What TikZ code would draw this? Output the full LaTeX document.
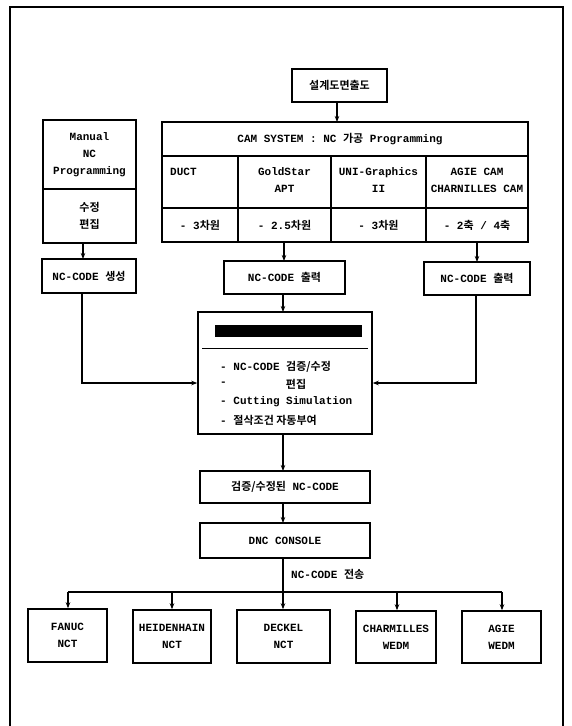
\documentclass[tikz,border=0pt]{standalone}
\usepackage{fontspec}
\setmainfont{Liberation Mono}
\newfontfamily\krfont{Noto Sans CJK KR}[BoldFont={Noto Sans CJK KR Bold}]
\newcommand\K[1]{{\krfont\bfseries #1}}
\usetikzlibrary{arrows.meta}
\begin{document}
\begin{tikzpicture}[x=1pt,y=-1pt,
  every node/.style={font=\bfseries\fontsize{11}{17}\selectfont, inner sep=0pt, align=center},
  box/.style={draw, line width=1.5pt, rectangle},
  arr/.style={line width=1.2pt, -{Stealth[length=6pt,width=4.5pt]}},
  conn/.style={line width=1.2pt},
  grid/.style={line width=1.5pt}]
\useasboundingbox (0,0) rectangle (572,726);
% outer frame
\draw[line width=1.5pt] (10,726) -- (10,7) -- (563,7) -- (563,726);

% top drawing box
\node[box, minimum width=95, minimum height=33] (des) at (339.5,85.5) {\K{설계도면출도}};

% CAM system box
\node[box, minimum width=366, minimum height=120] (cam) at (345,182) {};
\coordinate (camtop) at (337,122);
\draw[grid] (162,156) -- (528,156);
\draw[grid] (162,208) -- (528,208);
\foreach \xx in {238,331,426} \draw[grid] (\xx,156) -- (\xx,242);
\node (camtitle) at (340,139) {CAM SYSTEM : NC \K{가공} Programming};
\node[anchor=west] (duct) at (170,172) {DUCT};
\node (gold) at (284.5,180) {GoldStar\\APT};
\node (uni) at (378.5,180) {UNI-Graphics\\II};
\node (agie) at (477,180) {AGIE CAM\\CHARNILLES CAM};
\node (d1) at (200,225) {- 3\K{차원}};
\node (d2) at (284.5,225) {- 2.5\K{차원}};
\node (d3) at (378.5,225) {- 3\K{차원}};
\node (d4) at (477,225) {- 2\K{축} / 4\K{축}};
\draw[arr] (des.south -| camtop) -- (camtop);

% manual programming
\node[box, minimum width=93, minimum height=123] (man) at (89.5,181.5) {};
\draw[grid] (43,189) -- (136,189);
\node (mantxt) at (89.5,155) {Manual\\NC\\Programming};
\node (edit) at (89.5,215.5) {\K{수정}\\\K{편집}};

% NC code boxes
\node[box, minimum width=94, minimum height=34] (gen) at (89,276) {NC-CODE \K{생성}};
\node[box, minimum width=121, minimum height=33] (outm) at (284.5,277.5) {NC-CODE \K{출력}};
\node[box, minimum width=106, minimum height=33] (outr) at (477,278.5) {NC-CODE \K{출력}};
\draw[arr] (83,243) -- (83,259);
\draw[arr] (284,242) -- (284,261);
\draw[arr] (477,242) -- (477,262);

% central checking box
\node[box, minimum width=174, minimum height=122] (mid) at (285,373) {};
\node[fill=black, minimum width=147, minimum height=12] (midtitle) at (288.5,331) {};
\draw[line width=1pt] (202,348) -- (368,348);
\node[anchor=west] (m1) at (220,367) {- NC-CODE \K{검증/수정}};
\node[anchor=west] (m2) at (220,384) {-};
\node (m2b) at (296,384) {\K{편집}};
\node[anchor=west] (m3) at (220,402) {- Cutting Simulation};
\node[anchor=west] (m4) at (220,420) {- \K{절삭조건 자동부여}};
\draw[arr] (outm.south -| 283,0) -- (283,312);
\draw[arr] (82,293) -- (82,383) -- (mid.west |- 0,383);
\draw[arr] (476,295) -- (476,383) -- (mid.east |- 0,383);

% verified code and DNC
\node[box, minimum width=170, minimum height=32] (ver) at (285,487) {\K{검증/수정된} NC-CODE};
\node[box, minimum width=170, minimum height=35] (dnc) at (285,540.5) {DNC CONSOLE};
\draw[arr] (283,434) -- (283,471);
\draw[arr] (283,503) -- (283,523);
\coordinate (bus) at (283,592);
\draw[conn] (283,558) -- (bus);
\node[anchor=west] (send) at (291,574) {NC-CODE \K{전송}};
\draw[conn] (68,592) -- (502,592);

% machines
\node[box, minimum width=79, minimum height=53] (fanuc) at (67.5,635.5) {FANUC\\NCT};
\node[box, minimum width=78, minimum height=53] (heid) at (172,636.5) {HEIDENHAIN\\NCT};
\node[box, minimum width=93, minimum height=53] (deck) at (283.5,636.5) {DECKEL\\NCT};
\node[box, minimum width=80, minimum height=52] (charm) at (396,637) {CHARMILLES\\WEDM};
\node[box, minimum width=79, minimum height=52] (agiew) at (501.5,637) {AGIE\\WEDM};
\draw[arr] (68,592) -- (fanuc.north -| 68,0);
\draw[arr] (172,592) -- (heid.north);
\draw[arr] (283,592) -- (deck.north -| 283,0);
\draw[arr] (397,592) -- (charm.north -| 397,0);
\draw[arr] (502,592) -- (agiew.north -| 502,0);
\end{tikzpicture}
\end{document}
